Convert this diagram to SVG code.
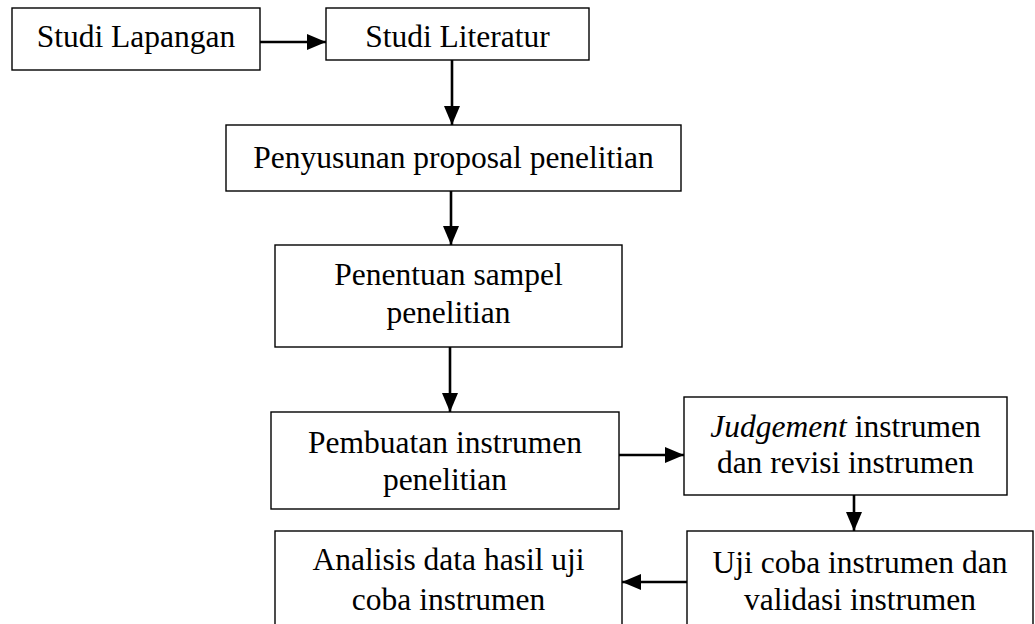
<svg xmlns="http://www.w3.org/2000/svg" width="1035" height="624" viewBox="0 0 1035 624">
<style>
.box{fill:#fff;stroke:#000;stroke-width:1.4}
.t{font-family:"Liberation Serif","Times New Roman",serif;font-size:31.5px;fill:#000;text-anchor:middle}
.c{stroke:#000;stroke-width:2.6;fill:none}
</style>
<defs>
<marker id="ah" markerUnits="userSpaceOnUse" markerWidth="19" markerHeight="16" refX="19" refY="8" orient="auto">
<path d="M0,0 L19,8 L0,16 z" fill="#000"/>
</marker>
</defs>
<rect width="1035" height="624" fill="#fff"/>
<g id="connectors">
<line class="c" x1="260" y1="42" x2="326" y2="42" marker-end="url(#ah)"/>
<line class="c" x1="452" y1="60" x2="452" y2="125" marker-end="url(#ah)"/>
<line class="c" x1="451" y1="191" x2="451" y2="245" marker-end="url(#ah)"/>
<line class="c" x1="450" y1="347" x2="450" y2="412" marker-end="url(#ah)"/>
<line class="c" x1="619" y1="455" x2="684" y2="455" marker-end="url(#ah)"/>
<line class="c" x1="854" y1="495" x2="854" y2="531" marker-end="url(#ah)"/>
<line class="c" x1="687" y1="582" x2="622" y2="582" marker-end="url(#ah)"/>
</g>
<g id="n1"><rect class="box" x="12" y="8" width="248" height="62"/><text class="t" x="136" y="47">Studi Lapangan</text></g>
<g id="n2"><rect class="box" x="326" y="8" width="263" height="52"/><text class="t" x="457.5" y="47">Studi Literatur</text></g>
<g id="n3"><rect class="box" x="226" y="125" width="455" height="66"/><text class="t" x="453.5" y="168">Penyusunan proposal penelitian</text></g>
<g id="n4"><rect class="box" x="275" y="245" width="347" height="102"/><text class="t" x="448.5" y="285">Penentuan sampel</text><text class="t" x="448.5" y="323">penelitian</text></g>
<g id="n5"><rect class="box" x="271" y="412" width="348" height="97"/><text class="t" x="445" y="453">Pembuatan instrumen</text><text class="t" x="445" y="490">penelitian</text></g>
<g id="n6"><rect class="box" x="684" y="397" width="323" height="98"/><text class="t" x="845.5" y="437"><tspan font-style="italic">Judgement</tspan> instrumen</text><text class="t" x="845.5" y="473">dan revisi instrumen</text></g>
<g id="n7"><rect class="box" x="275" y="531" width="347" height="110"/><text class="t" x="448.5" y="570">Analisis data hasil uji</text><text class="t" x="448.5" y="610">coba instrumen</text></g>
<g id="n8"><rect class="box" x="687" y="531" width="346" height="110"/><text class="t" x="860" y="573">Uji coba instrumen dan</text><text class="t" x="860" y="610">validasi instrumen</text></g>
</svg>
